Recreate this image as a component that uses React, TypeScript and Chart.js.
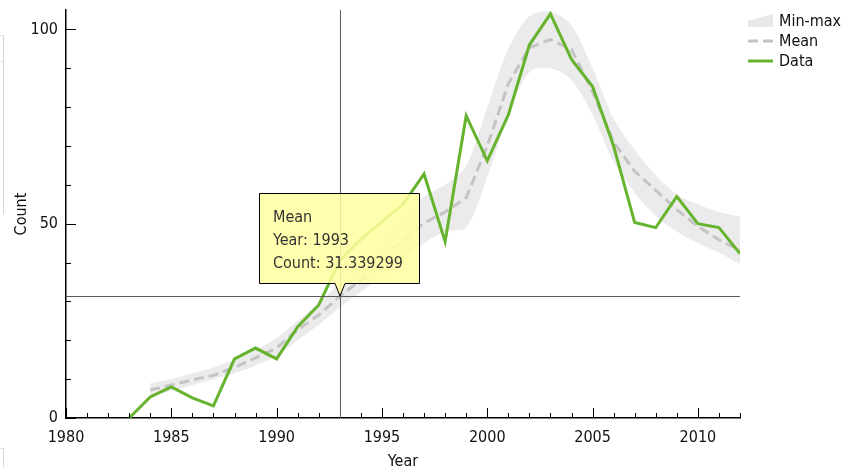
import React, { useEffect, useRef } from "react";
import { Chart, registerables } from "chart.js";

Chart.register(...registerables);

// ---- data ----
const dataYears = [1983, 1984, 1985, 1986, 1987, 1988, 1989, 1990, 1991, 1992, 1993, 1994, 1995, 1996, 1997, 1998, 1999, 2000, 2001, 2002, 2003, 2004, 2005, 2006, 2007, 2008, 2009, 2010, 2011, 2012];
const dataValues = [0, 5.4, 8, 5.2, 3.1, 15.2, 18, 15.2, 23.5, 29.1, 40.5, 46, 50.5, 55, 62.8, 45.4, 77.8, 66.2, 78, 96, 104, 92.3, 85.3, 70, 50.3, 49, 57, 50, 49, 42.3];

const statYears = [1984, 1985, 1986, 1987, 1988, 1989, 1990, 1991, 1992, 1993, 1994, 1995, 1996, 1997, 1998, 1999, 2000, 2001, 2002, 2003, 2004, 2005, 2006, 2007, 2008, 2009, 2010, 2011, 2012];
const meanValues = [7.2, 8.5, 9.8, 11, 13, 15.5, 18, 22.7, 26.5, 31.339299, 35.5, 40.7, 45.9, 50.2, 53, 56.7, 70, 86, 95.3, 97.4, 94.8, 84, 71, 63.5, 58.6, 53.6, 49.3, 45.9, 43.1];
const minValues = [5.5, 7, 8.5, 10, 11.5, 13.5, 16, 20, 24, 28.5, 32.5, 36.5, 40.5, 45, 48, 49, 62, 78, 89, 90, 87, 78, 66, 58, 52, 48, 45, 42.5, 39.5];
const maxValues = [9, 10, 11.5, 13, 15, 17.5, 20.5, 25, 29.5, 35, 40.5, 46, 52, 57, 60, 65, 80, 95, 103.4, 104.6, 101, 90, 77, 69, 62.5, 57.5, 55, 53, 51.8];

const xTickLabels = [1980, 1985, 1990, 1995, 2000, 2005, 2010];
const yTickLabels = [0, 50, 100];
const xMinorStep = 1;
const yMinorStep = 10;
const xRange = [1980, 2012];
const yRange = [0, 105];

const legendLabels = ["Min-max", "Mean", "Data"];
const hoverSeries = "Mean";
const hoverYear = 1993;
const hoverValue = 31.339299;

const FONT = "'DejaVu Sans Condensed', 'DejaVu Sans', sans-serif";
const GREEN = "#66b32e";
const MEAN_GRAY = "#c4c4c4";
const BAND = "#ebebeb";

const overlayPlugin = {
  id: "overlay",
  afterDraw(chart: any) {
    const { ctx, chartArea } = chart;
    const xs = chart.scales.x;
    const ys = chart.scales.y;
    ctx.save();
    // inward tick marks
    ctx.strokeStyle = "#000";
    ctx.lineWidth = 1;
    ctx.beginPath();
    for (let v = xRange[0]; v <= xRange[1]; v += xMinorStep) {
      const px = Math.round(xs.getPixelForValue(v)) + 0.5;
      const len = v % 5 === 0 ? 10 : 5;
      ctx.moveTo(px, chartArea.bottom);
      ctx.lineTo(px, chartArea.bottom - len);
    }
    for (let v = yRange[0]; v <= 100; v += yMinorStep) {
      const py = Math.round(ys.getPixelForValue(v)) + 0.5;
      const len = v % 50 === 0 ? 10 : 5;
      ctx.moveTo(chartArea.left, py);
      ctx.lineTo(chartArea.left + len, py);
    }
    ctx.stroke();

    // crosshair
    const cx = Math.round(xs.getPixelForValue(hoverYear)) + 0.5;
    const cy = Math.round(ys.getPixelForValue(hoverValue)) + 0.5;
    ctx.strokeStyle = "#5a5a5a";
    ctx.beginPath();
    ctx.moveTo(cx, chartArea.top);
    ctx.lineTo(cx, chartArea.bottom);
    ctx.moveTo(chartArea.left, cy);
    ctx.lineTo(chartArea.right, cy);
    ctx.stroke();

    // tooltip
    const tipX = cx - 0.5;
    const tipY = cy - 0.5;
    const bx = tipX - 81 + 0.5;
    const by = tipY - 103 + 0.5;
    const bw = 160;
    const bh = 90;
    ctx.beginPath();
    ctx.moveTo(bx, by);
    ctx.lineTo(bx + bw, by);
    ctx.lineTo(bx + bw, by + bh);
    ctx.lineTo(tipX + 5, by + bh);
    ctx.lineTo(tipX, tipY);
    ctx.lineTo(tipX - 5, by + bh);
    ctx.lineTo(bx, by + bh);
    ctx.closePath();
    ctx.fillStyle = "rgba(255,255,160,0.86)";
    ctx.fill();
    ctx.strokeStyle = "#000";
    ctx.stroke();
    ctx.fillStyle = "#333";
    ctx.font = `16px ${FONT}`;
    ctx.textAlign = "left";
    ctx.textBaseline = "middle";
    const lines = [hoverSeries, `Year: ${hoverYear}`, `Count: ${hoverValue}`];
    lines.forEach((t, i) => ctx.fillText(t, bx + 13.5, by + 24.5 + i * 23));

    // legend
    const lx = 748;
    const rows = [21, 41, 61];
    ctx.fillStyle = "#e8e8e8";
    ctx.beginPath();
    ctx.moveTo(lx, rows[0] + 6);
    ctx.lineTo(lx, rows[0] + 0);
    ctx.lineTo(lx + 25, rows[0] - 7);
    ctx.lineTo(lx + 25, rows[0] + 6);
    ctx.closePath();
    ctx.fill();
    ctx.strokeStyle = MEAN_GRAY;
    ctx.lineWidth = 3;
    ctx.setLineDash([10, 5]);
    ctx.beginPath();
    ctx.moveTo(lx, rows[1]);
    ctx.lineTo(lx + 25, rows[1]);
    ctx.stroke();
    ctx.setLineDash([]);
    ctx.strokeStyle = GREEN;
    ctx.beginPath();
    ctx.moveTo(lx, rows[2]);
    ctx.lineTo(lx + 25, rows[2]);
    ctx.stroke();
    ctx.fillStyle = "#111";
    legendLabels.forEach((t, i) => ctx.fillText(t, lx + 31, rows[i] + 1));
    ctx.restore();
  },
};

export default function App() {
  const ref = useRef<HTMLCanvasElement | null>(null);
  useEffect(() => {
    if (!ref.current) return;
    const chart = new Chart(ref.current, {
      type: "line",
      data: {
        datasets: [
          {
            label: "Data",
            data: dataYears.map((x, i) => ({ x, y: dataValues[i] })),
            borderColor: GREEN,
            borderWidth: 3,
            pointRadius: 0,
            fill: false,
            tension: 0,
          },
          {
            label: "Mean",
            data: statYears.map((x, i) => ({ x, y: meanValues[i] })),
            borderColor: MEAN_GRAY,
            borderWidth: 3,
            borderDash: [10, 5],
            pointRadius: 0,
            fill: false,
            tension: 0,
          },
          {
            label: "Min-max",
            data: statYears.map((x, i) => ({ x, y: maxValues[i] })),
            borderColor: "rgba(0,0,0,0)",
            borderWidth: 0,
            backgroundColor: BAND,
            pointRadius: 0,
            fill: "+1",
            tension: 0.3,
          },
          {
            label: "min",
            data: statYears.map((x, i) => ({ x, y: minValues[i] })),
            borderColor: "rgba(0,0,0,0)",
            borderWidth: 0,
            pointRadius: 0,
            fill: false,
            tension: 0.3,
          },
        ],
      },
      options: {
        animation: false,
        responsive: false,
        events: [],
        layout: { padding: { left: 0, top: 10, right: 116, bottom: 0 } },
        plugins: { legend: { display: false }, tooltip: { enabled: false } },
        scales: {
          x: {
            type: "linear",
            min: xRange[0],
            max: xRange[1],
            grid: { display: false, drawTicks: false },
            border: { display: true, color: "#000", width: 1.5 },
            ticks: {
              color: "#111",
              font: { family: FONT, size: 16 },
              padding: 10,
              maxRotation: 0,
              autoSkip: false,
              callback: (v: any) => String(v),
            },
            afterBuildTicks: (s: any) => {
              s.ticks = xTickLabels.map((v) => ({ value: v }));
            },
            afterFit: (s: any) => {
              s.height = 49;
              s.paddingLeft = 0;
              s.paddingRight = 0;
            },
            title: {
              display: true,
              text: "Year",
              color: "#111",
              font: { family: FONT, size: 16 },
              padding: { top: 0, bottom: -4 },
            },
          },
          y: {
            type: "linear",
            min: yRange[0],
            max: yRange[1],
            grid: { display: false, drawTicks: false },
            border: { display: true, color: "#000", width: 1.5 },
            ticks: {
              color: "#111",
              font: { family: FONT, size: 16 },
              padding: 8,
              callback: (v: any) => String(v),
            },
            afterBuildTicks: (s: any) => {
              s.ticks = yTickLabels.map((v) => ({ value: v }));
            },
            afterFit: (s: any) => {
              s.width = 66;
              s.paddingTop = 0;
              s.paddingBottom = 0;
            },
            title: {
              display: true,
              text: "Count",
              color: "#111",
              font: { family: FONT, size: 16 },
              padding: { top: 12, bottom: 0 },
            },
          },
        },
      },
      plugins: [overlayPlugin],
    });
    return () => chart.destroy();
  }, []);

  return (
    <div style={{ position: "fixed", left: 0, top: 0, width: 856, height: 467, background: "#fff" }}>
      <div style={{ position: "absolute", left: 0, top: 35, width: 3, height: 178, borderTop: "1px solid #e2e2e2", borderRight: "1px solid #d6d6d6" }} />
      <div style={{ position: "absolute", left: 0, top: 61, width: 3, height: 0, borderTop: "1px solid #e6e6e6" }} />
      <div style={{ position: "absolute", left: 0, top: 448, width: 3, height: 19, borderTop: "1px solid #e2e2e2", borderRight: "1px solid #d6d6d6" }} />
      <canvas ref={ref} width={856} height={467} style={{ position: "absolute", left: 0, top: 0 }} />
    </div>
  );
}
